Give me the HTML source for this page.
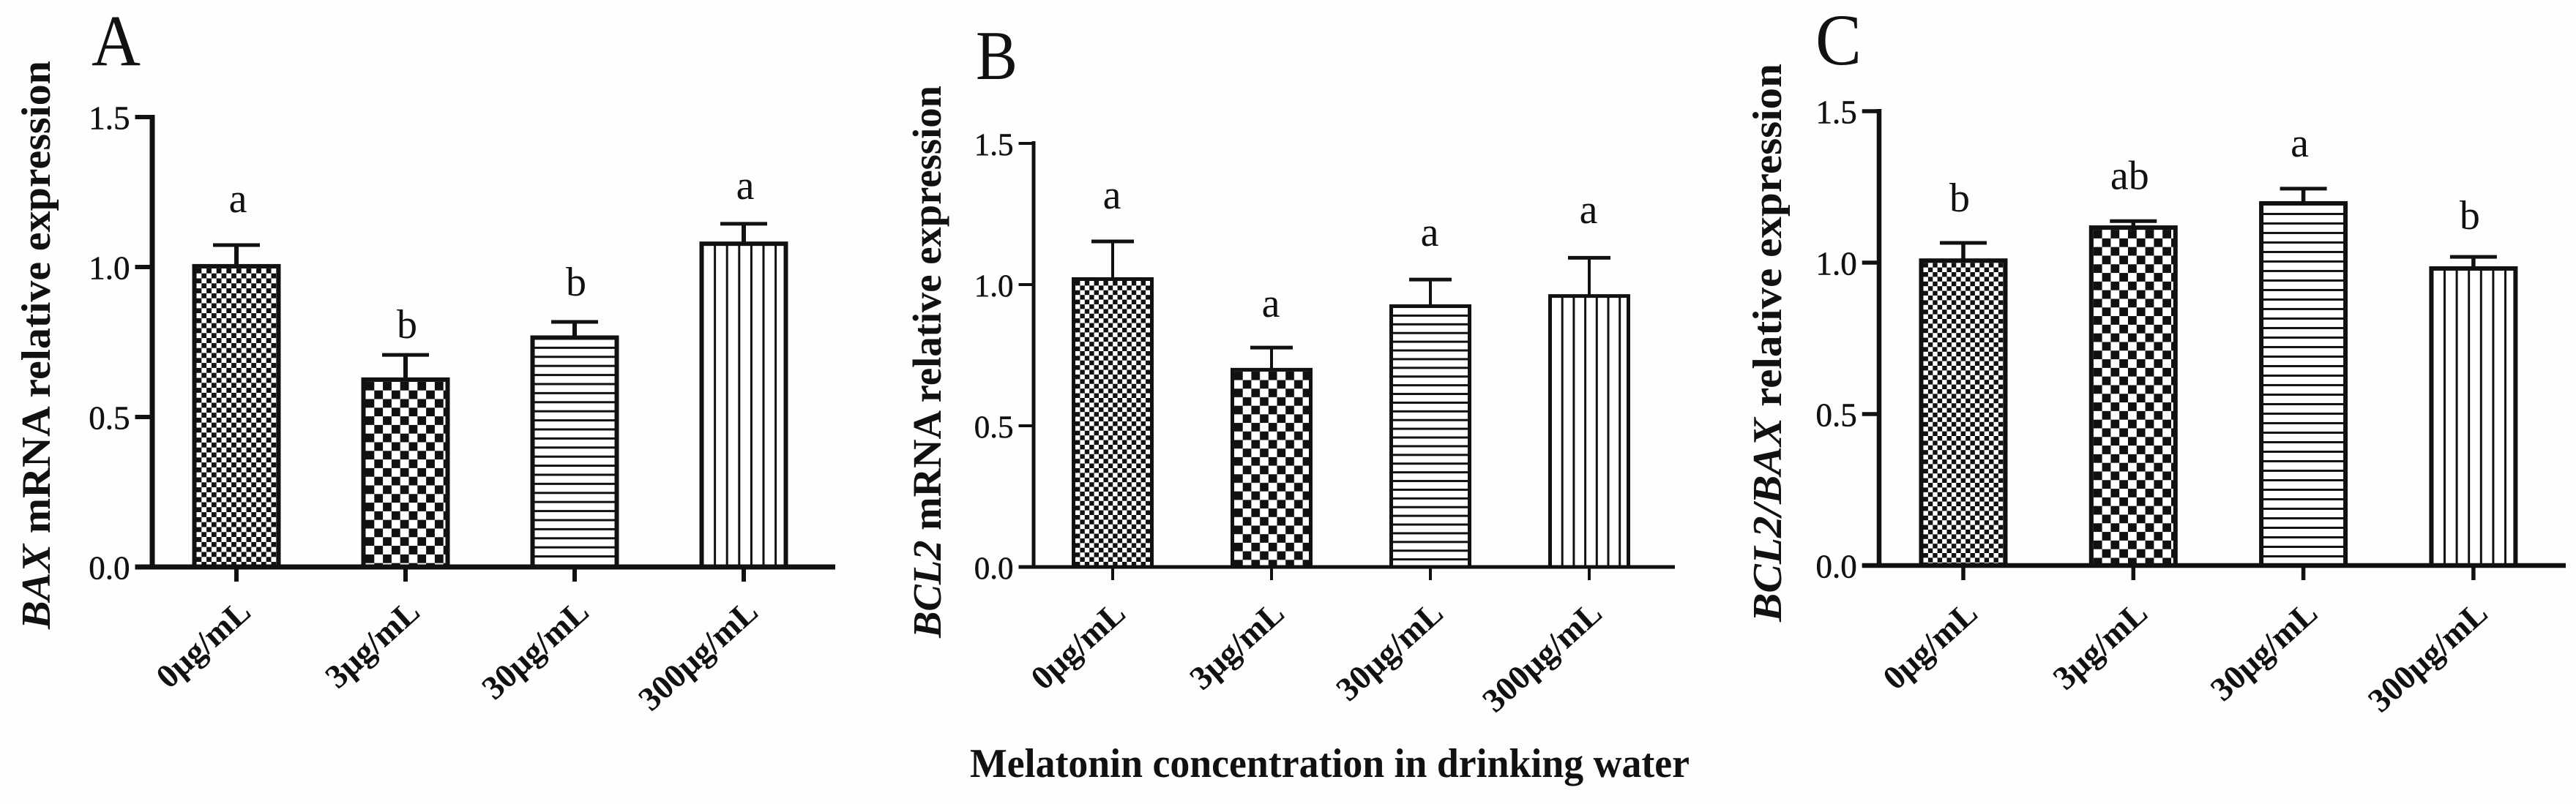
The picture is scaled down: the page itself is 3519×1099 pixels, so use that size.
<!DOCTYPE html>
<html lang="en">
<head>
<meta charset="utf-8">
<title>Melatonin concentration and BAX / BCL2 mRNA expression</title>
<style>
html,body{margin:0;padding:0;background:#fefefe;}
svg{display:block;}
text{font-family:"Liberation Serif","DejaVu Serif",serif;fill:#111;}
.tick{stroke:#111;stroke-width:.5px;}
.xlab{font-weight:bold;}
.title{font-weight:bold;}
</style>
</head>
<body>
<svg id="figure" xmlns="http://www.w3.org/2000/svg" width="3519" height="1099" viewBox="0 0 3519 1099">
  <rect x="0" y="0" width="3519" height="1099" fill="#fefefe"/>
  <defs id="pattern-defs"></defs>

  <text x="125" y="89" font-size="100" textLength="67" lengthAdjust="spacingAndGlyphs">A</text>
  <text x="1333" y="108" font-size="95" textLength="57" lengthAdjust="spacingAndGlyphs">B</text>
  <text x="2480" y="88" font-size="100" textLength="63" lengthAdjust="spacingAndGlyphs">C</text>

  <text class="title" transform="translate(68,860) rotate(-90)" font-size="56" textLength="777" lengthAdjust="spacingAndGlyphs"><tspan font-style="italic">BAX</tspan> mRNA relative expression</text>
  <text class="title" transform="translate(1285,872) rotate(-90)" font-size="55" textLength="755" lengthAdjust="spacingAndGlyphs"><tspan font-style="italic">BCL2</tspan> mRNA relative expression</text>
  <text class="title" transform="translate(2433,850) rotate(-90)" font-size="56" textLength="763" lengthAdjust="spacingAndGlyphs"><tspan font-style="italic">BCL2/BAX</tspan> relative expression</text>

  <text class="title" x="1325" y="1062" font-size="56" textLength="983" lengthAdjust="spacingAndGlyphs">Melatonin concentration in drinking water</text>

  <g id="panel-a"></g>
  <g id="panel-b"></g>
  <g id="panel-c"></g>
</svg>

<script>
// ---- chart data ----
const categories = ['0μg/mL', '3μg/mL', '30μg/mL', '300μg/mL'];
const yTicks = [0, 0.5, 1.0, 1.5];
const yTickLabels = ['0.0', '0.5', '1.0', '1.5'];

const baxValues = [1.01, 0.632, 0.772, 1.085];
const baxErrors = [0.068, 0.08, 0.05, 0.064];
const baxLetters = ['a', 'b', 'b', 'a'];
const baxLetterLift = [0.105, 0.051, 0.083, 0.078];

const bcl2Values = [1.026, 0.705, 0.93, 0.966];
const bcl2Errors = [0.132, 0.077, 0.093, 0.134];
const bcl2Letters = ['a', 'a', 'a', 'a'];
const bcl2LetterLift = [0.111, 0.104, 0.114, 0.117];

const ratioValues = [1.014, 1.123, 1.203, 0.988];
const ratioErrors = [0.056, 0.019, 0.046, 0.036];
const ratioLetters = ['b', 'ab', 'a', 'b'];
const ratioLetterLift = [0.099, 0.101, 0.101, 0.087];

// ---- panel layout ----
const panelA = {id:'a', group:'panel-a', axisX:208, baseY:775, unit:410, x0:323, step:231, barW:121, capW:64, lineW:7, barStroke:6, tickFont:45, vPeriod:16.6, hPeriod:12.4, fine:6.8, coarse:11.8, axisEnd:1141, tickLen:20, tickDown:20, labelDx:2, labelShift:22, labelY:840, values:baxValues, errors:baxErrors, letters:baxLetters, lift:baxLetterLift};
const panelB = {id:'b', group:'panel-b', axisX:1412, baseY:775, unit:386, x0:1520, step:217, barW:112, capW:58, lineW:5, barStroke:5, tickFont:43, vPeriod:15.7, hPeriod:11.9, fine:6.4, coarse:11.7, axisEnd:2288, tickLen:18, tickDown:18, labelDx:-1, labelShift:20, labelY:842, values:bcl2Values, errors:bcl2Errors, letters:bcl2Letters, lift:bcl2LetterLift};
const panelC = {id:'c', group:'panel-c', axisX:2567, baseY:773, unit:414, x0:2682, step:232.3, barW:121, capW:64, lineW:6.5, barStroke:6, tickFont:45, vPeriod:16.6, hPeriod:13, fine:6.4, coarse:11.8, axisEnd:3505, tickLen:20, tickDown:20, labelDx:-5, labelShift:22, labelY:842, values:ratioValues, errors:ratioErrors, letters:ratioLetters, lift:ratioLetterLift};

const SVG_NS = 'http://www.w3.org/2000/svg';
const INK = '#111';
const defsNode = document.getElementById('pattern-defs');

function make(tag, attrs, parent) {
  const node = document.createElementNS(SVG_NS, tag);
  Object.keys(attrs).forEach(function (k) { node.setAttribute(k, attrs[k]); });
  parent.appendChild(node);
  return node;
}

function buildPattern(kind, panel, index, left, top) {
  const pid = 'fill-' + panel.id + '-' + index;
  let size = kind === 'fine' ? panel.fine * 2 : panel.coarse * 2;
  let w = size, h = size;
  if (kind === 'horizontal') { w = 10; h = panel.hPeriod; }
  if (kind === 'vertical') { w = panel.vPeriod; h = 10; }
  const pat = make('pattern', {id: pid, patternUnits: 'userSpaceOnUse', x: left, y: top, width: w, height: h}, defsNode);
  
  
  make('rect', {x: 0, y: 0, width: w, height: h, fill: '#fff'}, pat);
  if (kind === 'fine' || kind === 'coarse') {
    make('rect', {x: 0, y: 0, width: size / 2, height: size / 2, fill: INK}, pat);
    make('rect', {x: size / 2, y: size / 2, width: size / 2, height: size / 2, fill: INK}, pat);
  } else if (kind === 'horizontal') {
    make('rect', {x: 0, y: h - 3, width: w, height: 3, fill: INK}, pat);
  } else {
    make('rect', {x: w - 3, y: 0, width: 3, height: h, fill: INK}, pat);
  }
  return pid;
}

const fillKinds = ['fine', 'coarse', 'horizontal', 'vertical'];

function drawPanel(p) {
  const g = document.getElementById(p.group);
  const yScale = function (v) { return p.baseY - v * p.unit; };
  const xScale = function (i) { return p.x0 + i * p.step; };

  // bars, error bars, letters
  categories.forEach(function (cat, i) {
    const cx = xScale(i);
    const top = yScale(p.values[i]);
    const errTop = yScale(p.values[i] + p.errors[i]);
    const s = p.barStroke;
    const left = cx - p.barW / 2;

    const errStem = make('line', {x1: cx, x2: cx, y1: top + 2, y2: errTop, stroke: INK, 'stroke-width': p.lineW - 1}, g);
    
    

    const errCap = make('line', {x1: cx - p.capW / 2, x2: cx + p.capW / 2, y1: errTop + 2, y2: errTop + 2, stroke: INK, 'stroke-width': 5}, g);
    
    

    const pid = buildPattern(fillKinds[i], p, i, left + s, top + s);
    const bar = make('rect', {x: left + s / 2, y: top + s / 2, width: p.barW - s, height: p.baseY - top - s / 2, fill: 'url(#' + pid + ')', stroke: INK, 'stroke-width': s}, g);
    
    

    const letter = make('text', {x: cx + p.labelDx, y: yScale(p.values[i] + p.errors[i] + p.lift[i]), 'font-size': 56, 'text-anchor': 'middle'}, g);
    letter.textContent = p.letters[i];
    
    

    const xTick = make('line', {x1: cx, x2: cx, y1: p.baseY, y2: p.baseY + p.tickDown, stroke: INK, 'stroke-width': p.lineW - 1}, g);
    
    

    const xLabel = make('text', {class: 'xlab', transform: 'translate(' + (cx + p.labelShift) + ',' + p.labelY + ') rotate(-42)', 'font-size': 46, 'text-anchor': 'end'}, g);
    xLabel.textContent = cat;
    
    
  });

  // y axis
  const yAxis = make('line', {x1: p.axisX, x2: p.axisX, y1: yScale(yTicks[yTicks.length - 1]) - 3, y2: p.baseY, stroke: INK, 'stroke-width': p.lineW}, g);
  
  

  yTicks.forEach(function (v, i) {
    const ty = yScale(v);
    const tick = make('line', {x1: p.axisX - p.tickLen - p.lineW / 2, x2: p.axisX, y1: ty, y2: ty, stroke: INK, 'stroke-width': p.lineW - 1}, g);
    
    

    const label = make('text', {class: 'tick', x: p.axisX - p.tickLen - p.lineW / 2 - 7, y: ty + p.tickFont * 0.37, 'font-size': p.tickFont, 'text-anchor': 'end'}, g);
    label.textContent = yTickLabels[i];
    
    
  });

  // x axis baseline
  const xAxis = make('line', {x1: p.axisX - p.tickLen - p.lineW / 2, x2: p.axisEnd, y1: p.baseY, y2: p.baseY, stroke: INK, 'stroke-width': p.lineW}, g);
  
  
}

drawPanel(panelA);
drawPanel(panelB);
drawPanel(panelC);
</script>
</body>
</html>
